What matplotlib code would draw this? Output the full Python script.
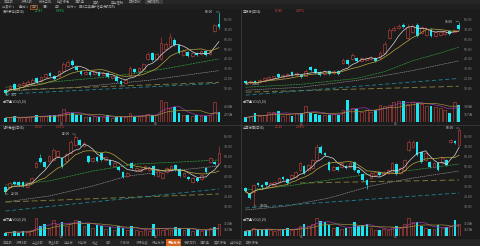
import matplotlib
matplotlib.use('Agg')
import matplotlib.pyplot as plt
import numpy as np
import pandas as pd
from matplotlib.patches import Rectangle

plt.rcParams['font.family'] = ['Noto Sans CJK SC', 'DejaVu Sans']

# ---------------- data ----------------
tl_open = [8,10,14,12,13,14,15,20,17,21,26,23,22,28,33,38,32,28,25,27,25,27,24,26,20,21,17,15,24,30,28,30,40,46,40,40,50,53,59,54,44,47,43,46,45,48,45,69,76]
tl_close = [5,12,9,14,15,16,18,16,21,25,23,19,28,35,37,34,29,25,27,24,28,23,26,21,22,17,14,18,31,27,31,35,45,39,45,56,55,62,54,46,48,43,46,44,48,44,48,75,73]
tl_high = [9,13,15,15,17,18,20,21,22,26,27,24,29,37,39,40,33,29,28,28,29,28,27,27,23,22,18,19,33,31,32,36,47,47,46,62,57,66,61,55,49,48,47,47,49,49,50,76,88]
tl_low = [3,9,8,11,12,13,14,15,16,20,22,18,21,27,32,33,28,24,24,23,24,22,23,20,19,16,13,14,23,26,27,29,39,38,39,39,49,52,53,45,43,42,42,43,44,43,44,68,71]
tl_vol = [12,15,17,12,14,15,18,20,17,18,20,20,25,37,30,27,20,20,15,15,17,15,14,20,12,15,15,14,28,15,18,20,25,22,20,65,60,40,43,27,20,20,18,20,18,17,22,60,30]
tl_ma20_x = [0,12,24,36,48]; tl_ma20 = [11,17,22,30,40]
tl_ma60_x = [0,16,32,48]; tl_ma60 = [7,11,18,28]
tl_ma120_x = [0,48]; tl_ma120 = [8,16]
tl_ma250_x = [0,48]; tl_ma250 = [4,15]

tr_open = [17,15,17,16,18,19,20,25,21,23,27,24,24,23,32,30,27,25,28,26,28,36,39,40,41,38,39,40,41,41,46,61,70,72,75,61,67,75,66,64,70,63,64,65,69,67,75]
tr_close = [15,17,15,18,20,21,22,21,24,25,24,26,21,28,29,26,24,28,25,28,25,39,35,44,38,41,41,42,38,46,55,70,72,74,73,73,74,63,73,71,63,67,68,69,65,70,71]
tr_high = [18,18,18,19,21,22,23,26,25,26,28,27,25,30,33,31,28,29,29,29,29,41,40,46,42,42,42,43,42,48,58,72,74,76,77,76,76,77,74,73,72,69,69,70,70,71,78]
tr_low = [14,14,14,15,17,18,19,20,20,22,23,23,20,22,28,25,23,24,24,25,24,35,34,39,37,37,38,39,37,40,45,60,69,71,72,60,66,62,65,63,62,62,63,64,64,66,70]
tr_vol = [10,12,20,12,15,22,22,23,14,18,13,20,20,35,20,17,15,15,16,18,16,25,48,30,28,22,26,22,26,38,35,38,43,45,45,40,43,41,40,35,35,33,30,25,20,43,36]
tr_ma20_x = [0,12,24,30,36,42,46]; tr_ma20 = [11,14,20,27,38,46,52]
tr_ma60_x = [0,12,24,36,46]; tr_ma60 = [8,11,18,28,38]
tr_ma120_x = [0,46]; tr_ma120 = [6,12]
tr_ma250_x = [0,46]; tr_ma250 = [3,20]

bl_open = [29,29,34,34,34,29,34,49,58,54,55,56,60,58,55,63,71,76,70,60,55,59,63,56,56,50,49,44,40,53,46,45,47,46,50,40,38,44,46,51,47,40,39,34,38,37,48,54,54,53]
bl_close = [24,33,32,31,30,33,38,53,54,49,60,66,65,49,62,74,79,71,73,54,58,55,56,59,51,53,46,39,43,48,48,47,50,48,41,45,43,48,50,46,40,43,37,38,35,41,44,58,52,63]
bl_high = [30,34,35,35,35,34,39,55,62,55,61,68,66,59,63,76,82,77,74,61,59,60,64,60,57,54,50,45,44,54,49,48,51,49,51,46,44,49,51,52,48,44,40,39,39,42,49,59,55,70]
bl_low = [22,28,31,30,29,28,33,48,53,48,54,55,59,48,54,62,70,70,69,53,54,54,55,55,50,49,45,38,39,47,45,44,46,45,40,39,37,43,45,45,39,39,36,33,34,36,43,53,51,52]
bl_vol = [8,10,12,8,12,10,15,45,25,30,20,40,30,35,25,30,40,38,25,30,20,28,25,18,22,15,25,20,15,25,15,12,15,12,30,20,15,18,15,22,20,15,18,12,15,12,15,20,22,30]
bl_ma20_x = [0,10,20,30,40,49]; bl_ma20 = [31,35,45,52,54,56]
bl_ma60_x = [0,10,20,28,40,49]; bl_ma60 = [14,20,30,40,46,50]
bl_ma120_x = [0,49]; bl_ma120 = [14,22]
bl_ma250_x = [0,49]; bl_ma250 = [5,27]

br_open = [28,23,24,33,31,34,29,31,34,39,37,38,39,46,50,46,48,56,69,63,54,46,49,49,50,49,54,46,42,36,38,41,44,42,43,44,52,43,46,66,69,74,64,56,54,49,53,53,56,74,75,71]
br_close = [25,18,31,31,29,31,33,34,38,37,33,41,44,53,43,51,56,69,63,61,46,49,46,53,48,53,46,43,36,31,43,44,41,44,46,53,42,48,56,74,74,61,54,63,49,53,46,58,51,76,73,86]
br_high = [29,24,32,34,32,35,34,35,39,40,38,42,45,54,51,52,57,72,71,64,55,50,50,54,51,54,55,47,43,37,44,45,45,45,47,54,53,49,57,76,76,75,65,64,55,54,54,59,57,77,76,88]
br_low = [24,17,10,30,28,30,28,30,33,36,32,37,38,45,42,45,47,55,62,60,45,45,45,48,47,48,45,42,35,27,37,40,40,41,42,43,41,42,45,65,68,60,53,55,48,48,45,52,50,73,72,70]
br_vol = [12,15,20,18,15,17,15,12,15,18,20,15,18,25,30,25,30,45,38,35,28,20,22,18,20,22,35,25,28,30,20,15,14,18,15,22,25,20,30,45,35,35,25,20,18,18,28,20,22,25,40,30]
br_ma20_x = [0,10,20,30,40,51]; br_ma20 = [26,30,36,42,46,52]
br_ma60_x = [0,10,20,30,40,51]; br_ma60 = [6,10,18,30,38,45]
br_ma120_x = [13,51]; br_ma120 = [33,36]
br_ma250_x = [0,51]; br_ma250 = [8,23]

titles = ["贵州茅台(日线)", "五粮液(日线)", "泸州老窖(日线)", "山西汾酒(日线)"]
title_vals = [("21.87", "0.39%", "#22c55e"), ("17.80", "4.07%", "#d0453f"),
              ("10.65", "1.92%", "#d0453f"), ("29.20", "2.38%", "#d0453f")]
top_tabs = ["自选股", "沪深A股", "板块监测", "指数行情", "港股通", "美股", "基金理财", "期货期权", "多股同列"]
tool_btns = ["前复权 ▾", "叠加 ▾", "日K", "周K", "月K", "指标 ▾", "画线工具", "显示信息", "多股同列"]
bottom_tabs = ["自选股", "沪深A股", "上证A股", "深证A股", "创业板", "科创板", "北证", "B股", "ST板块", "沪深指数",
               "行业板块", "概念板块", "多股同列", "港股通", "美股行情", "全球指数", "期货行情"]

# ---------------- style ----------------
BG = "#1b1b1b"
RED = "#b8413b"
CYAN = "#19e6f0"
W, H = 480, 246

fig = plt.figure(figsize=(4.8, 2.46), dpi=100)
fig.patch.set_facecolor(BG)


def frac(x0, y0, x1, y1):
    return [x0 / W, 1 - y1 / H, (x1 - x0) / W, (y1 - y0) / H]


def ftext(x, y, s, **kw):
    kw.setdefault("fontsize", 2.6)
    kw.setdefault("color", "#9a9a9a")
    kw.setdefault("va", "center")
    fig.text(x / W, 1 - y / H, s, **kw)


def frect(x0, y0, x1, y1, fc, ec="none", lw=0.4):
    fig.patches.append(Rectangle((x0 / W, 1 - y1 / H), (x1 - x0) / W, (y1 - y0) / H,
                                 transform=fig.transFigure, facecolor=fc, edgecolor=ec,
                                 linewidth=lw, zorder=0))


def style_ax(ax):
    ax.set_facecolor(BG)
    for s in ax.spines.values():
        s.set_visible(False)
    ax.tick_params(axis="both", length=0, labelsize=2.5, colors="#8a8a8a", pad=1.5)
    ax.yaxis.tick_right()
    ax.set_xticks([])


def candles(ax, o, c, h, l):
    o, c, h, l = map(np.asarray, (o, c, h, l))
    x = np.arange(len(o))
    up = c >= o
    ax.vlines(x[up], l[up], h[up], color=RED, lw=0.45, zorder=2)
    ax.vlines(x[~up], l[~up], h[~up], color=CYAN, lw=0.45, zorder=2)
    bot = np.minimum(o, c)
    hgt = np.maximum(np.abs(c - o), 0.5)
    ax.bar(x[up], hgt[up], bottom=bot[up], width=0.62, facecolor=BG, edgecolor=RED, lw=0.45, zorder=3)
    ax.bar(x[~up], hgt[~up], bottom=bot[~up], width=0.62, color=CYAN, lw=0, zorder=3)
    return x, up


def panel(x0, x1, ytop, ypb, yvb, o, c, h, l, v, mas, pylim, vylim, title, tv, vol_label):
    n = len(o)
    axp = fig.add_axes(frac(x0, ytop, x1, ypb))
    axv = fig.add_axes(frac(x0, ypb + 1, x1, yvb))
    for ax in (axp, axv):
        style_ax(ax)
        ax.set_xlim(-0.8, n - 0.3)
    x, up = candles(axp, o, c, h, l)
    cs = pd.Series(c, dtype=float)
    axp.plot(x, cs.rolling(5, min_periods=1).mean(), color="#d8d8d8", lw=0.5, zorder=4)
    axp.plot(x, cs.rolling(10, min_periods=1).mean(), color="#b9a640", lw=0.5, zorder=4)
    (gx, g), (sx, s), (ox, ov), (tx, t) = mas
    axp.plot(gx, g, color="#2f9a3a", lw=0.5, ls=(0, (3, 1)), zorder=1)
    axp.plot(sx, s, color="#9a9a9a", lw=0.45, ls=(0, (2, 1)), zorder=1)
    axp.plot(ox, ov, color="#7b7538", lw=0.7, ls=(0, (6, 3)), zorder=1)
    axp.plot(tx, t, color="#1f8496", lw=0.6, ls=(0, (5, 3)), zorder=1)
    axp.set_ylim(*pylim)
    axp.set_yticks(np.arange(10, pylim[1], 10))
    axp.yaxis.set_major_formatter(plt.FuncFormatter(lambda val, p: f"{val:.2f}"))
    # max / min labels
    hi = int(np.argmax(h)); lo = int(np.argmin(l))
    axp.annotate(f"{h[hi]:.2f}", (hi, h[hi]), xytext=(-4, 0), textcoords="offset points",
                 ha="right", va="center", fontsize=2.4, color="#cfcfcf",
                 arrowprops=dict(arrowstyle="-", color="#cfcfcf", lw=0.3))
    axp.annotate(f"{l[lo]:.2f}", (lo, l[lo]), xytext=(4, 0), textcoords="offset points",
                 ha="left", va="center", fontsize=2.4, color="#cfcfcf",
                 arrowprops=dict(arrowstyle="-", color="#cfcfcf", lw=0.3))
    # volume
    vv = np.asarray(v, dtype=float)
    axv.bar(x[up], vv[up], width=0.62, facecolor=BG, edgecolor=RED, lw=0.45)
    axv.bar(x[~up], vv[~up], width=0.62, color=CYAN, lw=0)
    vs = pd.Series(vv)
    axv.plot(x, vs.rolling(5, min_periods=1).mean(), color="#a23bb5", lw=0.45)
    axv.plot(x, vs.rolling(10, min_periods=1).mean(), color="#a8963a", lw=0.45)
    axv.set_ylim(*vylim)
    step = vylim[1] / 3
    axv.set_yticks([step, 2 * step])
    axv.yaxis.set_major_formatter(plt.FuncFormatter(lambda val, p: f"{val * 10:.0f}万"))
    # title
    ftext(x0 + 1, ytop + 1.5, title, color="#c8c8c8", fontsize=2.3)
    ftext(x0 + 33, ytop + 1.5, tv[0], color=tv[2], fontsize=2.3)
    ftext(x0 + 54, ytop + 1.5, tv[1], color=tv[2], fontsize=2.3)
    ftext(x0 + 1, ypb + 3, vol_label, color="#c8c8c8", fontsize=2.2)
    # date labels
    ftext(x0 + 58, yvb + 1.5, "03", fontsize=2.3)
    ftext(x0 + 152, yvb + 1.5, "04", fontsize=2.3)


panel(2, 222, 10, 98, 122, tl_open, tl_close, tl_high, tl_low, tl_vol,
      [(tl_ma20_x, tl_ma20), (tl_ma60_x, tl_ma60), (tl_ma120_x, tl_ma120), (tl_ma250_x, tl_ma250)],
      (0, 90), (0, 68), titles[0], title_vals[0], "成交量 VOL(5,10)")
panel(242, 462, 10, 98, 122, tr_open, tr_close, tr_high, tr_low, tr_vol,
      [(tr_ma20_x, tr_ma20), (tr_ma60_x, tr_ma60), (tr_ma120_x, tr_ma120), (tr_ma250_x, tr_ma250)],
      (0, 90), (0, 50), titles[1], title_vals[1], "成交量 VOL(5,10)")
panel(2, 222, 126, 216, 236, bl_open, bl_close, bl_high, bl_low, bl_vol,
      [(bl_ma20_x, bl_ma20), (bl_ma60_x, bl_ma60), (bl_ma120_x, bl_ma120), (bl_ma250_x, bl_ma250)],
      (0, 90), (0, 47), titles[2], title_vals[2], "成交量 VOL(5,10)")
panel(242, 462, 126, 216, 236, br_open, br_close, br_high, br_low, br_vol,
      [(br_ma20_x, br_ma20), (br_ma60_x, br_ma60), (br_ma120_x, br_ma120), (br_ma250_x, br_ma250)],
      (0, 90), (0, 47), titles[3], title_vals[3], "成交量 VOL(5,10)")

# separators
fig.add_artist(plt.Line2D([240.5 / W, 240.5 / W], [1 - 9 / H, 1 - 238 / H], color="#3a3a3a", lw=0.6))
fig.add_artist(plt.Line2D([0, 1], [1 - 124.5 / H, 1 - 124.5 / H], color="#3a3a3a", lw=0.6))

# top toolbar
frect(0, 0, 480, 4, "#262626")
tx = 2
for i, t in enumerate(top_tabs):
    w = 18
    if i == len(top_tabs) - 1:
        frect(tx - 1, 0, tx + w - 1, 4, "#3d3d3d")
    ftext(tx + 1, 2, t, fontsize=2.3, color="#9a9a9a")
    tx += w
frect(0, 4.2, 480, 9, "#1f1f1f")
bx = 2
for i, t in enumerate(tool_btns):
    w = 12 if len(t) <= 4 else 17
    if t == "日K":
        frect(bx - 1, 5, bx + 6, 8.5, "#3a2518", ec="#e0702a", lw=0.4)
    ftext(bx, 6.7, t, fontsize=2.3, color="#a0a0a0")
    bx += w

# bottom bar
frect(0, 238.5, 480, 246, "#242424")
bx = 2
for i, t in enumerate(bottom_tabs):
    w = 14 if len(t) <= 3 else 16
    if i == 11:
        frect(bx - 2, 239, bx + w - 3, 246, "#d9641e")
        ftext(bx, 242.5, t, fontsize=2.3, color="#ffffff")
    else:
        ftext(bx, 242.5, t, fontsize=2.3, color="#8a8a8a")
    bx += w

fig.savefig("out.png", dpi=100, facecolor=BG)
